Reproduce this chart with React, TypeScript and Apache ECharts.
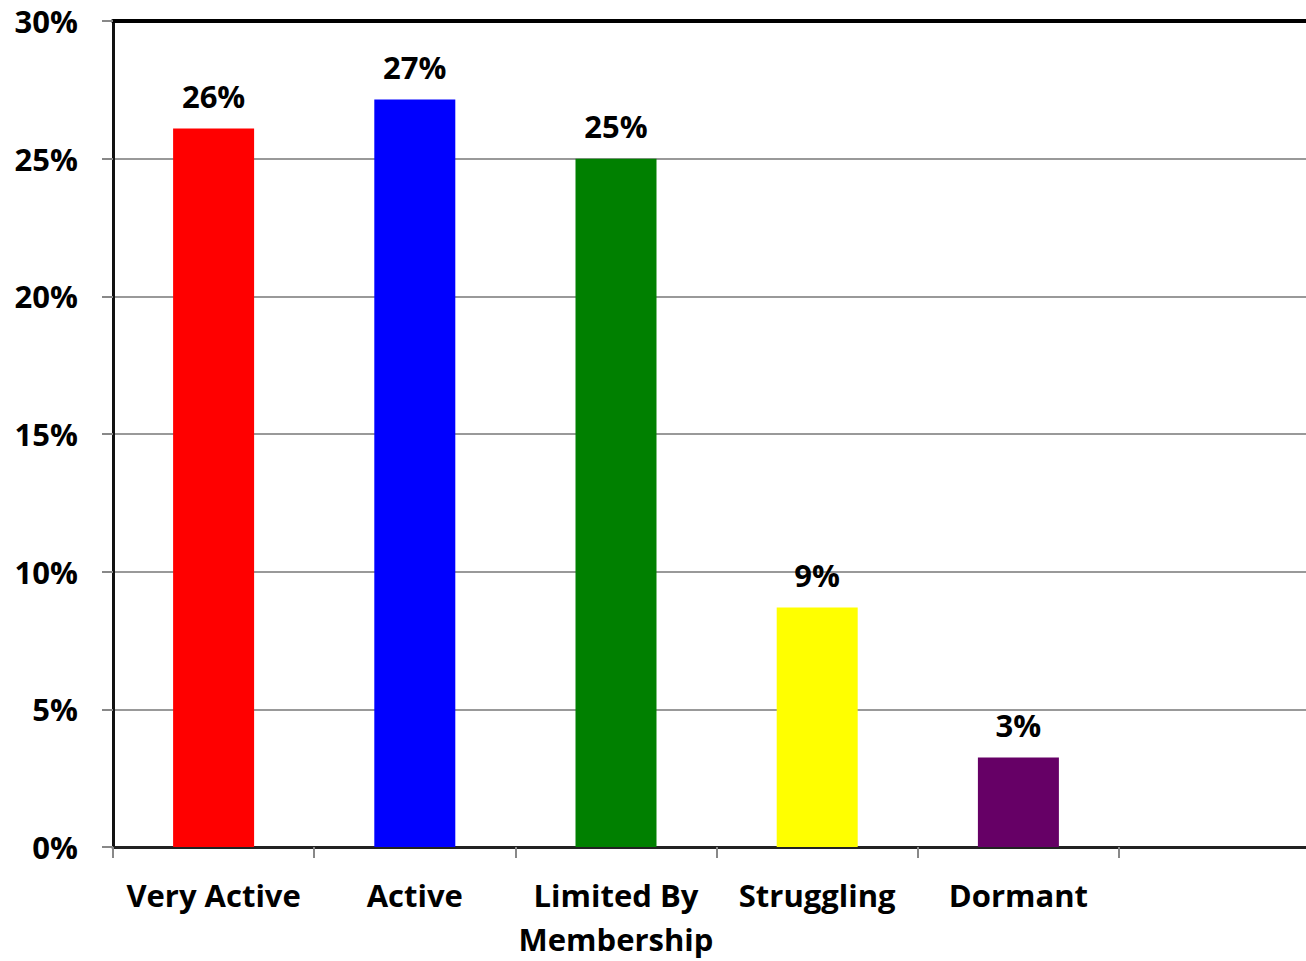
import React, { useEffect, useRef } from "react";
import * as echarts from "echarts";

const categories = ["Very Active", "Active", "Limited By\nMembership", "Struggling", "Dormant", ""];
const values = [26.1, 27.15, 25.0, 8.7, 3.25, null];
const barColors = ["#FF0000", "#0000FF", "#008000", "#FFFF00", "#660066", "#000000"];
const yTicks = { min: 0, max: 30, interval: 5 };

const FONT = "'Open Sans', 'Noto Sans', sans-serif";
const FS = 31;

export default function App() {
  const ref = useRef<HTMLDivElement>(null);
  useEffect(() => {
    if (!ref.current) return;
    const chart = echarts.init(ref.current, null, { renderer: "svg" });
    chart.setOption({
      animation: false,
      backgroundColor: "#ffffff",
      grid: { left: 113, top: 21, width: 1207.2, height: 828, containLabel: false },
      xAxis: [
        {
          type: "category",
          data: categories,
          position: "bottom",
          axisLine: { show: true, lineStyle: { color: "#222", width: 3 } },
          axisTick: { show: true, length: 11, lineStyle: { color: "#888", width: 2 } },
          axisLabel: {
            color: "#000",
            fontFamily: FONT,
            fontWeight: "bold",
            fontSize: FS,
            lineHeight: 44,
            margin: 26,
            interval: 0,
          },
          splitLine: { show: false },
        },
        {
          type: "category",
          data: categories,
          position: "top",
          axisLine: { show: true, lineStyle: { color: "#000", width: 4 } },
          axisTick: { show: false },
          axisLabel: { show: false },
          splitLine: { show: false },
        },
      ],
      yAxis: {
        type: "value",
        min: yTicks.min,
        max: yTicks.max,
        interval: yTicks.interval,
        axisLine: { show: true, lineStyle: { color: "#111", width: 3 } },
        axisTick: { show: true, length: 11, lineStyle: { color: "#888", width: 2 } },
        axisLabel: {
          formatter: "{value}%",
          color: "#000",
          fontFamily: FONT,
          fontWeight: "bold",
          fontSize: FS,
          margin: 35,
        },
        splitLine: { show: true, lineStyle: { color: "#999", width: 2 } },
      },
      series: [
        {
          type: "bar",
          xAxisIndex: 0,
          barWidth: 81,
          data: values.map((v, i) => ({ value: v, itemStyle: { color: barColors[i] } })),
          label: {
            show: true,
            position: "top",
            distance: 17,
            color: "#000",
            fontFamily: FONT,
            fontWeight: "bold",
            fontSize: FS,
            formatter: (p: any) => (p.value == null ? "" : Math.round(p.value) + "%"),
          },
        },
      ],
    });
    return () => chart.dispose();
  }, []);
  return (
    <div style={{ position: "absolute", left: 0, top: 0, width: 1306, height: 961, overflow: "hidden" }}>
      <div ref={ref} style={{ width: 1330, height: 961 }} />
    </div>
  );
}
